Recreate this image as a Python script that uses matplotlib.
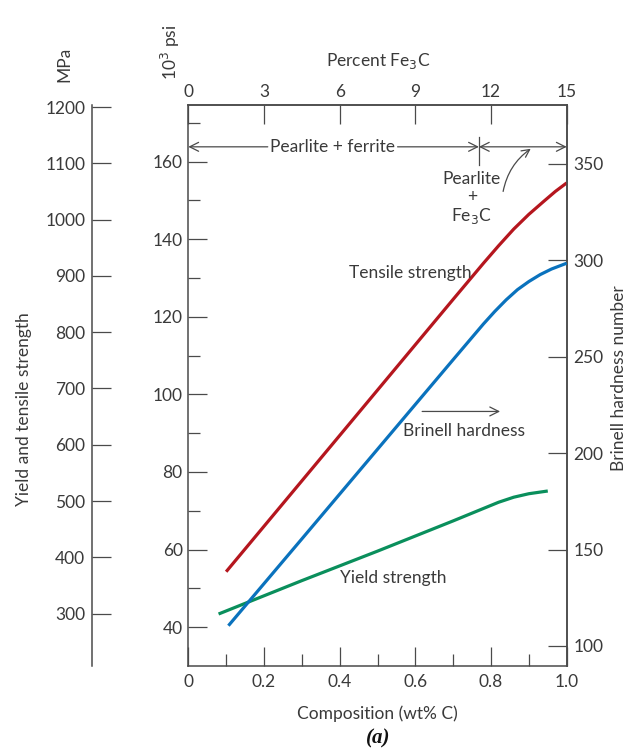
import matplotlib
matplotlib.use('Agg')
import matplotlib.pyplot as plt
from matplotlib.ticker import FixedLocator

# ---------------- data ----------------
carbon_tensile = [0.10, 0.30, 0.50, 0.70, 0.78, 0.82, 0.86, 0.90, 0.94, 0.97, 1.00]
tensile_ksi = [54.3, 77.7, 101.1, 124.5, 133.8, 138.3, 142.6, 146.4, 149.8, 152.3, 154.5]

carbon_brinell = [0.106, 0.30, 0.50, 0.70, 0.78, 0.81, 0.84, 0.87, 0.90, 0.93, 0.96, 1.00]
brinell_hb = [110.5, 155.5, 202.0, 248.5, 267.0, 273.5, 279.5, 284.8, 289.0, 292.6, 295.5, 298.5]

carbon_yield = [0.08, 0.30, 0.50, 0.70, 0.78, 0.82, 0.86, 0.90, 0.95]
yield_ksi = [43.4, 52.0, 59.6, 67.4, 70.6, 72.2, 73.5, 74.4, 75.1]

ksi_major = [40, 60, 80, 100, 120, 140, 160]
ksi_minor = [50, 70, 90, 110, 130, 150, 170]
mpa_ticks = [300, 400, 500, 600, 700, 800, 900, 1000, 1100, 1200]
hb_ticks = [100, 150, 200, 250, 300, 350]
c_major = [0, 0.2, 0.4, 0.6, 0.8, 1.0]
c_major_labels = ['0', '0.2', '0.4', '0.6', '0.8', '1.0']
c_minor = [0.1, 0.3, 0.5, 0.7, 0.9]
fe3c_ticks = [0, 3, 6, 9, 12, 15]
eutectoid = 0.768

# ---------------- style ----------------
FONT = ['Lato', 'DejaVu Sans']
plt.rcParams['font.family'] = FONT
plt.rcParams['font.size'] = 12
TXT = '#3a3a3a'
SPINE = '#4a4a4a'
RED = '#b5161e'
BLUE = '#0a72bd'
GREEN = '#0a8f5c'
FS = 12.5

W, H = 629, 751
fig = plt.figure(figsize=(W / 100, H / 100), dpi=100)

def fx(px):
    return px / W

def fy(py):
    return 1 - py / H

ax_l, ax_r, ax_t, ax_b = 188.3, 566.7, 105.3, 666.0
ax = fig.add_axes([fx(ax_l), fy(ax_b), (ax_r - ax_l) / W, (ax_b - ax_t) / H])
ax.set_xlim(0, 1.0)
ax.set_ylim(30, 174.5)

for s in ax.spines.values():
    s.set_color(SPINE)
    s.set_linewidth(1.1)

ax.xaxis.set_major_locator(FixedLocator(c_major))
ax.set_xticklabels(c_major_labels)
ax.xaxis.set_minor_locator(FixedLocator(c_minor))
ax.yaxis.set_major_locator(FixedLocator(ksi_major))
ax.yaxis.set_minor_locator(FixedLocator(ksi_minor))
ax.tick_params(which='major', direction='in', length=13.7, width=0.9, color=SPINE,
               labelsize=FS, labelcolor=TXT, pad=4)
ax.tick_params(which='minor', direction='in', length=8.6, width=0.9, color=SPINE)
ax.tick_params(axis='x', which='both', top=False)
ax.tick_params(axis='y', which='both', right=False)
ax.tick_params(axis='x', pad=6)

# secondary top axis (Percent Fe3C)
top = ax.secondary_xaxis('top', functions=(lambda c: c * 15, lambda p: p / 15))
top.xaxis.set_major_locator(FixedLocator(fe3c_ticks))
top.tick_params(direction='in', length=13.7, width=0.9, color=SPINE,
                labelsize=FS, labelcolor=TXT, pad=4)
top.spines['top'].set_color(SPINE)
top.spines['top'].set_linewidth(1.1)

# Brinell axis (right)
axh = ax.twinx()
axh.set_ylim(89.6, 380.4)
axh.yaxis.set_major_locator(FixedLocator(hb_ticks))
axh.tick_params(direction='in', length=13.7, width=0.9, color=SPINE,
                labelsize=FS, labelcolor=TXT, pad=5)
for s in axh.spines.values():
    s.set_visible(False)
axh.spines['right'].set_visible(True)
axh.spines['right'].set_color(SPINE)
axh.spines['right'].set_linewidth(1.1)

# curves
ax.plot(carbon_tensile, tensile_ksi, color=RED, lw=2.3, solid_capstyle='butt',
        solid_joinstyle='round', zorder=3)
ax.plot(carbon_yield, yield_ksi, color=GREEN, lw=2.3, solid_capstyle='butt',
        solid_joinstyle='round', zorder=3)
axh.plot(carbon_brinell, brinell_hb, color=BLUE, lw=2.3, solid_capstyle='butt',
         solid_joinstyle='round', zorder=3)

# MPa axis
mpa_x = 92.3
axm = fig.add_axes([fx(mpa_x), fy(ax_b), 0.001, (ax_b - ax_t) / H])
axm.set_ylim(30 * 6.895, 174.5 * 6.895)
for k in ['top', 'right', 'bottom']:
    axm.spines[k].set_visible(False)
axm.spines['left'].set_color(SPINE)
axm.spines['left'].set_linewidth(1.1)
axm.set_xticks([])
axm.yaxis.set_major_locator(FixedLocator(mpa_ticks))
axm.tick_params(direction='in', length=13.7, width=0.9, color=SPINE,
                labelsize=FS, labelcolor=TXT, pad=5)
axm.patch.set_visible(False)

# ---------------- annotations ----------------
arrow_kw = dict(arrowstyle='->', color=SPINE, lw=0.9, mutation_scale=16, shrinkA=0, shrinkB=0)
y_arr = 163.8
ax.annotate('', xy=(0.0, y_arr), xytext=(0.21, y_arr), arrowprops=arrow_kw)
ax.annotate('', xy=(eutectoid, y_arr), xytext=(0.553, y_arr), arrowprops=arrow_kw)
ax.text(0.382, y_arr, 'Pearlite + ferrite', ha='center', va='center', fontsize=FS, color=TXT)
ax.plot([eutectoid, eutectoid], [159.0, 166.3], color=SPINE, lw=0.9)
ax.annotate('', xy=(1.0, y_arr), xytext=(eutectoid, y_arr),
            arrowprops=dict(arrowstyle='<->', color=SPINE, lw=0.9, mutation_scale=16,
                            shrinkA=0, shrinkB=0))
ax.annotate('', xy=(0.905, 163.3), xytext=(0.832, 152.3),
            arrowprops=dict(arrowstyle='->', color=SPINE, lw=0.9, mutation_scale=14,
                            shrinkA=0, shrinkB=0, connectionstyle='arc3,rad=-0.2'))
ax.text(0.749, 155.5, 'Pearlite', ha='center', va='center', fontsize=FS, color=TXT)
ax.text(0.749, 150.8, '+', ha='center', va='center', fontsize=FS, color=TXT)
ax.text(0.749, 146.0, r'Fe$_3$C', ha='center', va='center', fontsize=FS, color=TXT)

ax.text(0.586, 131.3, 'Tensile strength', ha='center', va='center', fontsize=FS, color=TXT)
ax.text(0.729, 90.6, 'Brinell hardness', ha='center', va='center', fontsize=FS, color=TXT)
ax.annotate('', xy=(0.824, 95.6), xytext=(0.618, 95.6), arrowprops=arrow_kw)
ax.text(0.541, 52.7, 'Yield strength', ha='center', va='center', fontsize=FS, color=TXT)

# ---------------- axis titles ----------------
fig.text(fx(378), fy(61), r'Percent Fe$_3$C', ha='center', va='center', fontsize=FS, color=TXT)
fig.text(fx(64), fy(64), 'MPa', ha='center', va='center', rotation=90, fontsize=FS, color=TXT)
fig.text(fx(170), fy(52), r'10$^3$ psi', ha='center', va='center', rotation=90, fontsize=FS, color=TXT)
fig.text(fx(24), fy(409), 'Yield and tensile strength', ha='center', va='center',
         rotation=90, fontsize=FS, color=TXT)
fig.text(fx(619), fy(378), 'Brinell hardness number', ha='center', va='center',
         rotation=90, fontsize=FS, color=TXT)
fig.text(fx(377), fy(714), 'Composition (wt% C)', ha='center', va='center', fontsize=FS, color=TXT)
fig.text(fx(378), fy(738), '(a)', ha='center', va='center', fontsize=15,
         family=['Liberation Serif', 'DejaVu Serif'], style='italic', weight='bold', color='#111111')

fig.savefig('out.png', dpi=100)
